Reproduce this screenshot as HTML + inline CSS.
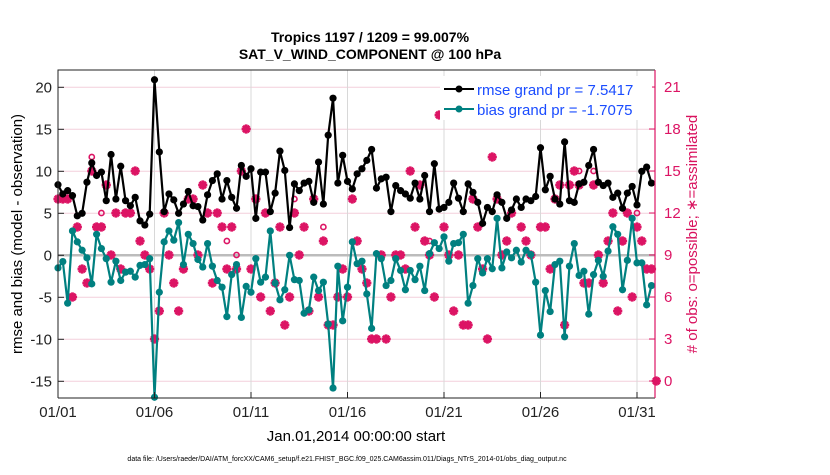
<!DOCTYPE html>
<html><head><meta charset="utf-8"><style>
body{margin:0;background:#fff;}
svg text{font-family:"Liberation Sans",Arial,sans-serif;}
</style></head><body>
<svg id="chart" width="830" height="470" xmlns="http://www.w3.org/2000/svg">
<rect width="830" height="470" fill="#fff"/>
<g id="grid"></g>
<g id="series"></g>
<g id="axes"></g>
<text x="370" y="42" font-size="14" font-weight="bold" text-anchor="middle">Tropics 1197 / 1209 = 99.007%</text>
<text x="370" y="59" font-size="14" font-weight="bold" text-anchor="middle">SAT_V_WIND_COMPONENT @ 100 hPa</text>
<text transform="translate(22,234) rotate(-90)" font-size="15" text-anchor="middle">rmse and bias (model - observation)</text>
<text transform="translate(697,234) rotate(-90)" font-size="15" text-anchor="middle" fill="#d9125e"># of obs: o=possible; ∗=assimilated</text>
<text x="356" y="441" font-size="15" text-anchor="middle">Jan.01,2014 00:00:00 start</text>
<text x="347" y="461" font-size="7" text-anchor="middle">data file: /Users/raeder/DAI/ATM_forcXX/CAM6_setup/f.e21.FHIST_BGC.f09_025.CAM6assim.011/Diags_NTrS_2014-01/obs_diag_output.nc</text>
<g>
<rect x="440" y="76" width="212" height="44" fill="#fff"/>
<g>
<line x1="444" y1="89" x2="474" y2="89" stroke="#000" stroke-width="2"/><circle cx="459" cy="89" r="3.5" fill="#000"/>
<text x="477" y="95" font-size="15" fill="#1a4cff">rmse grand pr = 7.5417</text></g>
<g>
<line x1="444" y1="109" x2="474" y2="109" stroke="#008080" stroke-width="2"/><circle cx="459" cy="109" r="3.5" fill="#008080"/>
<text x="477" y="115" font-size="15" fill="#1a4cff">bias grand pr = -1.7075</text></g>
</g>
</svg>
<script>
const rmse=[8.4,7.3,7.7,7.1,4.7,5.0,8.7,11.0,9.5,9.9,6.5,12.0,6.7,10.6,6.5,5.9,6.9,4.1,3.6,4.9,20.9,12.3,5.2,7.3,6.6,5.0,6.1,7.6,5.9,5.8,4.2,
7.2,8.9,9.7,6.7,8.9,6.9,5.6,10.7,9.4,10.3,4.4,9.9,9.9,5.2,7.4,12.4,10.1,3.3,8.5,7.7,8.6,8.8,6.3,11.1,6.1,14.3,18.7,8.6,11.9,8.8,
7.9,9.7,10.3,11.3,12.6,8.0,9.1,9.3,5.2,8.3,7.7,7.3,6.8,8.6,6.7,9.5,5.2,10.9,5.5,5.7,6.3,8.6,6.8,5.2,8.5,7.5,6.3,3.8,5.7,5.2,
7.2,6.3,4.4,5.4,6.7,5.7,6.7,6.5,7.0,12.8,7.8,9.4,6.7,6.1,13.5,6.5,6.3,8.5,8.7,10.7,12.6,8.7,8.3,8.6,6.9,7.4,5.6,7.4,8.2,6.0,10.0,10.5,8.6];
const bias=[-1.5,-0.75,-5.7,2.9,1.6,0.6,-0.3,-3.4,2.5,0.8,-0.4,-3.2,-0.7,-3.0,-2.0,-1.9,-2.6,-1.2,-1.1,-0.4,-16.9,-4.4,1.6,2.9,1.8,3.9,-1.1,2.5,1.4,-0.5,-1.4,
1.4,-1.3,-3.0,-3.8,-7.3,-2.3,-1.1,-7.4,-3.7,-4.4,-0.4,-3.2,-2.6,2.9,-3.3,-5.3,-4.1,0.0,-2.9,-3.0,-6.9,-6.5,-2.6,-4.2,-3.2,-8.2,-15.8,-1.3,-7.8,-3.8,
1.6,-1.0,-0.7,-4.6,-8.7,0.2,-0.4,-3.6,-3.0,-0.4,-1.8,-4.1,-1.8,-2.9,-1.3,-4.2,0.2,1.5,0.8,2.2,-0.7,1.4,1.5,2.5,-5.7,-3.6,-0.4,-2.1,-0.4,-1.6,
4.4,-1.5,0.4,-0.3,0.6,-0.8,0.6,0.1,-3.2,-9.5,-4.2,-6.7,-1.1,-0.7,-9.7,-1.3,1.4,-2.4,-1.9,-7.0,-2.3,-0.6,-2.5,0.5,3.4,2.5,-4.1,-0.6,4.4,-0.9,-0.9,-5.9,-3.6];
const nAssim=[13,13,13,6,11,8,7,15,11,11,14,9,12,8,12,12,15,10,9,8,3,5,12,9,7,5,8,13,13,9,14,
12,7,12,11,8,11,8,15,18,8,13,6,12,5,7,11,4,6,12,9,11,5,13,6,10,4,4,6,8,6,
13,10,8,7,3,3,9,3,6,9,9,8,15,11,14,10,9,6,19,11,9,5,9,4,4,13,11,8,3,16,
13,9,10,12,19,11,10,9,19,11,11,8,13,14,4,14,15,14,7,7,14,9,7,10,12,5,10,12,6,11,10,8,8,0];
const nPoss=nAssim.slice();
const possIdx=[7,9,35,37,49,55,77,108,111,120];
const possVal=[16,12,10,9,13,11,10,15,15,12];
possIdx.forEach((k,j)=>{nPoss[k]=possVal[j];});
const yTicksL=[-15,-10,-5,0,5,10,15,20];
const yTicksR=[0,3,6,9,12,15,18,21];
const xTickDays=[0,5,10,15,20,25,30];
const xTickLabels=['01/01','01/06','01/11','01/16','01/21','01/26','01/31'];

const X0=58,X1=655,Y0=70,Y1=398;
const dayPx=19.3, stepDays=0.25;
const xd=d=>X0+d*dayPx;
const xi=i=>xd(i*stepDays);
const yL=v=>255.3-v*8.4;
const yR=v=>381-v*14;
const NS='http://www.w3.org/2000/svg';
function mk(tag,attrs,parent){const e=document.createElementNS(NS,tag);for(const k in attrs)e.setAttribute(k,attrs[k]);parent.appendChild(e);return e;}
const grid=document.getElementById('grid'),ser=document.getElementById('series'),axes=document.getElementById('axes');
yTicksL.forEach(v=>{const l=mk('line',{x1:X0,x2:X1,y1:yL(v),y2:yL(v),stroke:'#f3cfdc','stroke-width':1},grid);

});
xTickDays.forEach(d=>{const l=mk('line',{x1:xd(d),x2:xd(d),y1:Y0,y2:Y1,stroke:'#d8d8d8','stroke-width':1},grid);

});
const zl=mk('line',{x1:X0,x2:X1,y1:yL(0),y2:yL(0),stroke:'#bcbcbc','stroke-width':2.5},grid);


const C='#dc1464';
nPoss.forEach((v,i)=>{const c=mk('circle',{cx:xi(i),cy:yR(v),r:2.6,fill:'none',stroke:C,'stroke-width':1.6},ser);

});
nAssim.forEach((v,i)=>{const x=xi(i),y=yR(v),s=4.6;
const g=mk('path',{d:`M${x-s},${y}L${x+s},${y}M${x},${y-s}L${x},${y+s}M${x-3.2},${y-3.2}L${x+3.2},${y+3.2}M${x-3.2},${y+3.2}L${x+3.2},${y-3.2}`,stroke:C,'stroke-width':2.8,fill:'none'},ser);

});
function series(arr,col,name){
const p=mk('polyline',{points:arr.map((v,i)=>xi(i)+','+yL(v)).join(' '),fill:'none',stroke:col,'stroke-width':2.2,'stroke-linejoin':'round'},ser);


arr.forEach((v,i)=>{const c=mk('circle',{cx:xi(i),cy:yL(v),r:3.6,fill:col},ser);

});}
series(bias,'#008080','bias');
series(rmse,'#000','rmse');
const box=mk('path',{d:`M${X0},${Y1}L${X0},${Y0}L${X1},${Y0}M${X0},${Y1}L${X1},${Y1}`,stroke:'#222','stroke-width':1,fill:'none'},axes);


const ra=mk('line',{x1:X1,x2:X1,y1:Y0,y2:Y1,stroke:C,'stroke-width':1.2},axes);


yTicksL.forEach(v=>{mk('line',{x1:X0,x2:X0+6,y1:yL(v),y2:yL(v),stroke:'#222'},axes);
const t=mk('text',{x:X0-6,y:yL(v)+5,'font-size':15,'text-anchor':'end',fill:'#222'},axes);t.textContent=v;

});
yTicksR.forEach(v=>{mk('line',{x1:X1-6,x2:X1,y1:yR(v),y2:yR(v),stroke:C},axes);
const t=mk('text',{x:X1+9,y:yR(v)+5,'font-size':15,fill:C},axes);t.textContent=v;

});
xTickDays.forEach((d,j)=>{mk('line',{x1:xd(d),x2:xd(d),y1:Y1,y2:Y1-6,stroke:'#222'},axes);
const t=mk('text',{x:xd(d),y:Y1+19,'font-size':15,'text-anchor':'middle',fill:'#222'},axes);t.textContent=xTickLabels[j];

});
</script>
</body></html>
